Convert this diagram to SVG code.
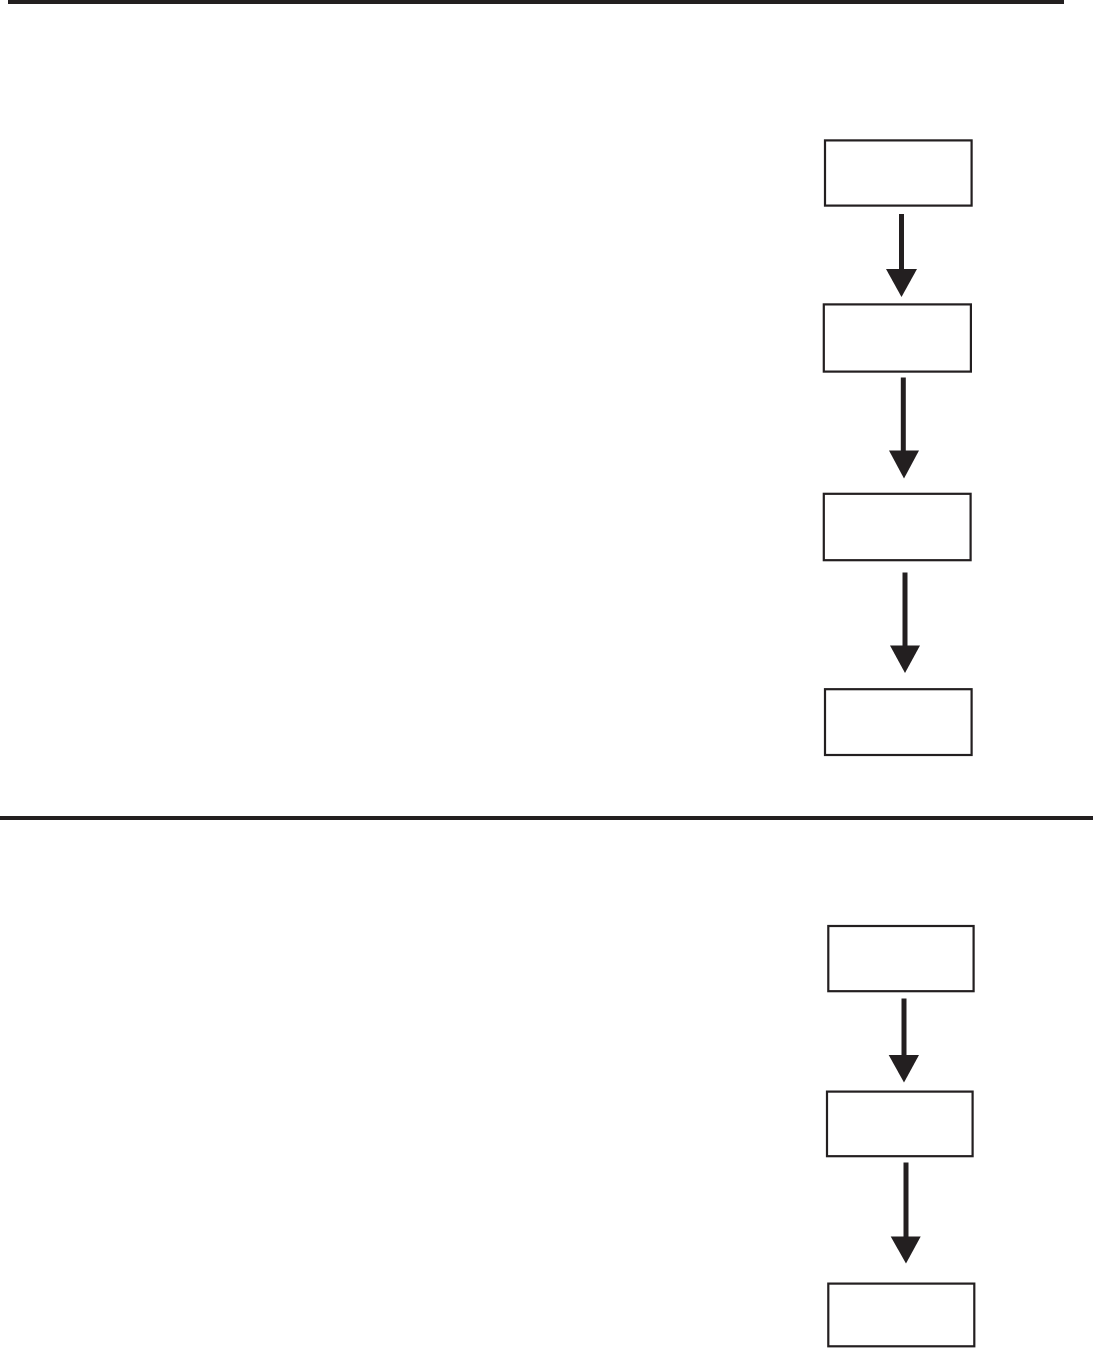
<svg xmlns="http://www.w3.org/2000/svg" width="1093" height="1350" viewBox="0 0 1093 1350">
<style>
.box{fill:#fff;stroke:#231f20;stroke-width:2.2}
.shaft{stroke:#231f20;stroke-width:5;fill:none}
.head{fill:#231f20}
.rule{fill:#231f20}
</style>
<rect width="1093" height="1350" fill="#fff"/>
<g id="rules">
<rect class="rule" x="8" y="0" width="1056" height="4"/>
<rect class="rule" x="0" y="816" width="1093" height="4"/>
</g>
<g id="connectors">
<line class="shaft" x1="901.5" y1="214" x2="901.5" y2="270"/>
<polygon class="head" points="886,269 917,269 901.5,297"/>
<line class="shaft" x1="903.3" y1="377.5" x2="903.3" y2="452"/>
<polygon class="head" points="889,450.5 919,450.5 904,478.5"/>
<line class="shaft" x1="905" y1="572.5" x2="905" y2="647"/>
<polygon class="head" points="890,645.5 920,645.5 905,673"/>
<line class="shaft" x1="904" y1="998.5" x2="904" y2="1056"/>
<polygon class="head" points="888.7,1055 919,1055 904,1082.5"/>
<line class="shaft" x1="906" y1="1162.5" x2="906" y2="1238"/>
<polygon class="head" points="890.7,1236.5 920.7,1236.5 906,1263.5"/>
</g>
<g id="node1"><rect class="box" x="825" y="140.4" width="146.6" height="65.2"/></g>
<g id="node2"><rect class="box" x="823.8" y="304.4" width="147.1" height="67.2"/></g>
<g id="node3"><rect class="box" x="823.8" y="493.8" width="146.8" height="66.4"/></g>
<g id="node4"><rect class="box" x="825" y="689.2" width="146.6" height="65.8"/></g>
<g id="node5"><rect class="box" x="828.3" y="926" width="145.3" height="65.2"/></g>
<g id="node6"><rect class="box" x="827" y="1091.6" width="145.6" height="64.6"/></g>
<g id="node7"><rect class="box" x="828.3" y="1283.6" width="146" height="62.7"/></g>
</svg>
